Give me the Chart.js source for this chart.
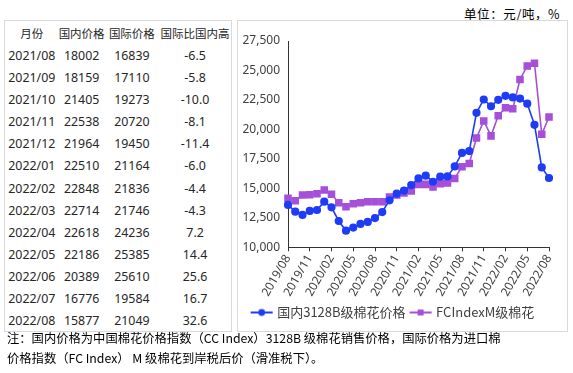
<!DOCTYPE html>
<html>
<head>
<meta charset="utf-8">
<script src="https://cdn.jsdelivr.net/npm/chart.js@4/dist/chart.umd.min.js"></script>
<style>
body{margin:0;width:573px;height:373px;background:#fff;position:relative;overflow:hidden;font-family:"Noto Sans","Noto Sans CJK SC",sans-serif;color:#262626}
#unit{position:absolute;left:464px;top:4px;font-size:12.5px;letter-spacing:0.6px;color:#000;font-family:"Noto Sans CJK SC",sans-serif}
#tblBox{position:absolute;left:4px;top:20px;width:226px;height:310px;border:1px solid #d9d9d9}
#tbl{border-collapse:collapse;table-layout:fixed;margin-top:1px}
#tbl td,#tbl th{padding:0;height:22.15px;text-align:center;font-size:12.4px;font-weight:normal;white-space:nowrap}
#tbl th{font-size:11.5px;font-family:"Noto Sans CJK SC",sans-serif}
#chartBox{position:absolute;left:237px;top:20px;width:329px;height:310px;border:1px solid #d9d9d9}
#note{position:absolute;left:7px;top:328px;font-size:12.3px;line-height:20px;color:#000;font-family:"Noto Sans CJK SC",sans-serif;white-space:nowrap}
</style>
</head>
<body>
<div id="unit">单位：元/吨，%</div>
<div id="tblBox">
  <table id="tbl">
    <colgroup><col style="width:54px"><col style="width:44px"><col style="width:55px"><col style="width:72px"></colgroup>
    <thead><tr><th>月份</th><th>国内价格</th><th>国际价格</th><th>国际比国内高</th></tr></thead>
    <tbody id="tbody"></tbody>
  </table>
</div>
<div id="chartBox"><canvas id="grafico"></canvas></div>
<div id="note">注：国内价格为中国棉花价格指数（CC Index）3128B 级棉花销售价格，国际价格为进口棉<br>价格指数（FC Index） M 级棉花到岸税后价（滑准税下）。</div>
<script>
//Dados do grafico
var months = ["2019/08","2019/09","2019/10","2019/11","2019/12","2020/01","2020/02","2020/03","2020/04","2020/05","2020/06","2020/07","2020/08","2020/09","2020/10","2020/11","2020/12","2021/01","2021/02","2021/03","2021/04","2021/05","2021/06","2021/07","2021/08","2021/09","2021/10","2021/11","2021/12","2022/01","2022/02","2022/03","2022/04","2022/05","2022/06","2022/07","2022/08"];
var domestic = [13590,13020,12740,13080,13160,13870,13390,12230,11410,11670,11980,12150,12480,12990,13980,14545,14800,15280,15840,16070,15560,15985,16010,16860,18002,18159,21405,22538,21964,22510,22848,22714,22618,22186,20389,16776,15877];
var international = [14150,13950,14430,14460,14545,14855,14490,13780,13440,13700,13780,13870,13870,13870,14260,14430,14600,14770,15335,15335,15110,15390,15450,15840,16839,17110,19273,20720,19450,21164,21836,21746,24236,25385,25610,19584,21049];
var diffPct = [-6.5,-5.8,-10.0,-8.1,-11.4,-6.0,-4.4,-4.3,7.2,14.4,25.6,16.7,32.6];
var seriesNames = ["国内3128B级棉花价格","FCIndexM级棉花"];
var yTicks = {min: 10000, max: 27500, step: 2500};

var blue = "#1f3cf5";
var purple = "#a64fd8";

//Tabela
var start = months.length - diffPct.length;
var html = "";
for (var i = 0; i < diffPct.length; i++) {
  html += "<tr><td>" + months[start + i] + "</td><td>" + domestic[start + i] + "</td><td>" +
    international[start + i] + "</td><td>" + diffPct[i].toFixed(1) + "</td></tr>";
}
document.getElementById("tbody").innerHTML = html;

//Icone da legenda (linha + marcador)
function legendIcon(color, style) {
  var c = document.createElement("canvas");
  c.width = 24; c.height = 10;
  var g = c.getContext("2d");
  g.strokeStyle = color; g.lineWidth = 2;
  g.beginPath(); g.moveTo(1, 5); g.lineTo(23, 5); g.stroke();
  g.fillStyle = color;
  if (style === "circle") {
    g.beginPath(); g.arc(12, 5, 3.4, 0, Math.PI * 2); g.fill();
  } else {
    g.fillRect(9, 2, 6, 6);
  }
  return c;
}
var icons = [legendIcon(blue, "circle"), legendIcon(purple, "rect")];

var config = {
  type: "line",
  data: {
    labels: months,
    datasets: [{
      label: seriesNames[0],
      data: domestic,
      borderColor: blue,
      backgroundColor: blue,
      borderWidth: 1.6,
      pointStyle: "circle",
      pointRadius: 3.3,
      tension: 0
    }, {
      label: seriesNames[1],
      data: international,
      borderColor: purple,
      backgroundColor: purple,
      borderWidth: 1.6,
      pointStyle: "rect",
      pointRadius: 4.2,
      tension: 0
    }]
  },
  options: {
    responsive: true,
    maintainAspectRatio: false,
    animation: false,
    layout: {padding: {top: 20, right: 18, left: 0, bottom: 2}},
    plugins: {
      tooltip: {enabled: false},
      legend: {
        position: "bottom",
        labels: {
          usePointStyle: true,
          pointStyleWidth: 18,
          color: "#404040",
          padding: 6,
          font: {size: 13, family: "'Noto Sans CJK SC', 'Noto Sans', sans-serif"},
          generateLabels: function(chart) {
            var items = Chart.defaults.plugins.legend.labels.generateLabels(chart);
            items.forEach(function(it, k) { it.pointStyle = icons[k]; });
            return items;
          }
        }
      }
    },
    scales: {
      x: {
        offset: false,
        grid: {
          drawOnChartArea: false,
          tickLength: 4,
          tickColor: function(ctx) { return ctx.index % 3 === 0 ? "#333" : "rgba(0,0,0,0)"; }
        },
        border: {color: "#333", width: 1},
        ticks: {
          autoSkip: false,
          maxRotation: 60,
          minRotation: 60,
          color: "#404040",
          padding: 1,
          font: {size: 12, family: "'Noto Sans', sans-serif"},
          callback: function(v, i) { return i % 3 === 0 ? months[i] : ""; }
        }
      },
      y: {
        min: yTicks.min,
        max: yTicks.max,
        grid: {display: false, drawTicks: false},
        border: {color: "#333", width: 1},
        afterFit: function(scale) { scale.width = 50; },
        ticks: {
          stepSize: yTicks.step,
          padding: 8,
          color: "#404040",
          font: {size: 12, family: "'Noto Sans', sans-serif"},
          callback: function(v) { return v.toLocaleString("en-US"); }
        }
      }
    }
  }
};

window.onload = function() {
  var ctx = document.getElementById("grafico").getContext("2d");
  window.myLine = new Chart(ctx, config);
};
</script>
</body>
</html>
